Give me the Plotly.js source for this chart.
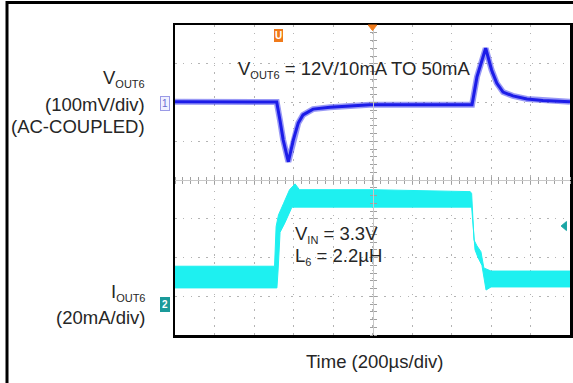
<!DOCTYPE html>
<html>
<head>
<meta charset="utf-8">
<script src="https://cdn.plot.ly/plotly-3.0.1.min.js"></script>
<style>html,body{margin:0;padding:0;background:#fff;}#chart{width:573px;height:383px;}</style>
</head>
<body>
<div id="chart"></div>
<script>
// Time axis in microseconds (200 µs/div, 10 divisions)
const vTime_us = [-1000, -485, -468, -452, -426, -401, -376, -352, -301, -215, -114, -13, 250, 504, 529, 573, 603, 629, 661, 711, 782, 863, 1000];
// VOUT6 (AC-coupled), mV
const vOut_mV  = [2, 1, -47, -97, -153, -97, -53, -32, -17, -12, -9, -6, -6, -6, 66, 140, 84, 50, 27, 17, 9, 5, 2];

// IOUT6 noisy band: upper and lower envelope, mA
const iTimeHi_us = [-1000, -496, -488, -476, -450, -420, -392, -370, 0, 495, 502, 514, 529, 549, 564, 600, 1000];
const iHi_mA     = [19.5, 19.5, 40, 46, 52, 59, 62, 59, 59, 58, 57, 33, 30, 27, 18.6, 17, 17];
const iTimeLo_us = [-1000, -484, -478, -468, -443, -408, 0, 502, 519, 534, 554, 575, 600, 1000];
const iLo_mA     = [8.3, 8.3, 17.5, 37, 42, 50, 50, 50, 28, 24, 20, 7.2, 8.8, 8.8];

const BLUE = '#1c1ce8';
const CYAN = '#1ef0f0';
const TXT = '#262626';
const FONT = 'Liberation Sans, Arial, sans-serif';

const traces = [
  {x: iTimeLo_us, y: iLo_mA, xaxis: 'x', yaxis: 'y2', mode: 'lines', line: {color: CYAN, width: 1}, hoverinfo: 'skip', showlegend: false},
  {x: iTimeHi_us, y: iHi_mA, xaxis: 'x', yaxis: 'y2', mode: 'lines', fill: 'tonexty', fillcolor: CYAN, line: {color: CYAN, width: 1}, hoverinfo: 'skip', showlegend: false},
  {x: vTime_us, y: vOut_mV, xaxis: 'x', yaxis: 'y', mode: 'lines', line: {color: BLUE, width: 6}, opacity: 0.45, hoverinfo: 'skip', showlegend: false},
  {x: vTime_us, y: vOut_mV, xaxis: 'x', yaxis: 'y', mode: 'lines', line: {color: BLUE, width: 3}, hoverinfo: 'skip', showlegend: false},
  {x: [], y: [], xaxis: 'x2', yaxis: 'y', showlegend: false},
  {x: [], y: [], xaxis: 'x3', yaxis: 'y', showlegend: false},
  {x: [], y: [], xaxis: 'x', yaxis: 'y3', showlegend: false},
  {x: [], y: [], xaxis: 'x', yaxis: 'y4', showlegend: false}
];

const cross = {showline: true, linecolor: '#c8c8c8', linewidth: 1, ticks: 'outside', ticklen: 3, tickcolor: '#a0a0a0', tickwidth: 1, showticklabels: false, showgrid: false, zeroline: false, fixedrange: true};

const layout = {
  width: 573, height: 383,
  margin: {l: 175, r: 3, t: 25, b: 48},
  paper_bgcolor: '#fff', plot_bgcolor: '#fff',
  font: {family: FONT, color: TXT, size: 18.5},
  showlegend: false,
  xaxis: {range: [-1000, 1000], dtick: 200, tick0: -1000, showgrid: true, gridcolor: '#b4b4b4', gridwidth: 1, griddash: '1.5px,6.4px',
          showline: true, mirror: true, linecolor: '#000', linewidth: 2.5, ticks: '', showticklabels: false, zeroline: false},
  yaxis: {range: [-600, 200], dtick: 100, tick0: -600, showgrid: true, gridcolor: '#b4b4b4', gridwidth: 1, griddash: '1.5px,6.25px',
          showline: true, mirror: true, linecolor: '#000', linewidth: 2.5, ticks: '', showticklabels: false, zeroline: false},
  yaxis2: {range: [-16, 144], overlaying: 'y', anchor: 'x', visible: false, showgrid: false, zeroline: false},
  xaxis2: Object.assign({range: [-1000, 1000], dtick: 40, tick0: -1000, overlaying: 'x', anchor: 'free', position: 0.5, side: 'bottom'}, cross),
  xaxis3: Object.assign({range: [-1000, 1000], dtick: 40, tick0: -1000, overlaying: 'x', anchor: 'free', position: 0.5, side: 'top'}, cross),
  yaxis3: Object.assign({range: [-600, 200], dtick: 20, tick0: -600, overlaying: 'y', anchor: 'free', position: 0.5, side: 'left'}, cross),
  yaxis4: Object.assign({range: [-600, 200], dtick: 20, tick0: -600, overlaying: 'y', anchor: 'free', position: 0.5, side: 'right'}, cross),
  shapes: [
    // outer border of the figure
    {type: 'path', xref: 'paper', yref: 'paper', path: 'M -0.4253,-0.3 L -0.4253,1.0726 L 1.05,1.0726', line: {color: '#000', width: 3}},
    // trigger position marker (top centre)
    {type: 'path', xref: 'x', yref: 'paper', path: 'M -22,1.0 L 22,1.0 L 0,0.982 Z', fillcolor: '#f07a1a', line: {color: '#f07a1a', width: 1}},
    // trigger level marker (right)
    {type: 'path', xref: 'x', yref: 'paper', path: 'M 955,0.3516 L 982,0.366 L 982,0.337 Z', fillcolor: '#1aa5a5', line: {color: '#1aa5a5', width: 1}}
  ],
  annotations: [
    {xref: 'paper', yref: 'paper', x: -0.07, y: 0.826, xanchor: 'right', yanchor: 'middle', showarrow: false,
     text: 'V<sub><span style="font-size:11px">OUT6</span></sub>'},
    {xref: 'paper', yref: 'paper', x: -0.07, y: 0.745, xanchor: 'right', yanchor: 'middle', showarrow: false, text: '(100mV/div)'},
    {xref: 'paper', yref: 'paper', x: -0.07, y: 0.671, xanchor: 'right', yanchor: 'middle', showarrow: false, text: '(AC-COUPLED)'},
    {xref: 'paper', yref: 'paper', x: -0.07, y: 0.137, xanchor: 'right', yanchor: 'middle', showarrow: false,
     text: 'I<sub><span style="font-size:11px">OUT6</span></sub>'},
    {xref: 'paper', yref: 'paper', x: -0.07, y: 0.058, xanchor: 'right', yanchor: 'middle', showarrow: false, text: '(20mA/div)'},
    {xref: 'paper', yref: 'paper', x: 0.505, y: -0.087, xanchor: 'center', yanchor: 'middle', showarrow: false, text: 'Time (200µs/div)'},
    {xref: 'paper', yref: 'paper', x: 0.155, y: 0.855, xanchor: 'left', yanchor: 'middle', showarrow: false,
     text: 'V<sub><span style="font-size:11px">OUT6</span></sub> = 12V/10mA TO 50mA'},
    {xref: 'paper', yref: 'paper', x: 0.298, y: 0.325, xanchor: 'left', yanchor: 'middle', showarrow: false,
     text: 'V<sub><span style="font-size:11px">IN</span></sub> = 3.3V'},
    {xref: 'paper', yref: 'paper', x: 0.298, y: 0.253, xanchor: 'left', yanchor: 'middle', showarrow: false,
     text: 'L<sub><span style="font-size:11px">6</span></sub> = 2.2µH'},
    // channel markers
    {xref: 'paper', yref: 'paper', x: -0.012, y: 0.748, xanchor: 'right', yanchor: 'middle', showarrow: false, text: '1',
     font: {size: 10, color: '#6a6ad0'}, bgcolor: '#f0f0ff', bordercolor: '#9a9ae6', borderwidth: 1, borderpad: 1},
    {xref: 'paper', yref: 'paper', x: -0.012, y: 0.0985, xanchor: 'right', yanchor: 'middle', showarrow: false, text: '<b>2</b>',
     font: {size: 10, color: '#fff'}, bgcolor: '#1a9a9a', bordercolor: '#1a9a9a', borderwidth: 1, borderpad: 1},
    // trigger icon
    {xref: 'paper', yref: 'paper', x: 0.261, y: 0.966, xanchor: 'center', yanchor: 'middle', showarrow: false, text: '<b>U</b>',
     font: {size: 10, color: '#fff'}, bgcolor: '#f07a1a', bordercolor: '#f07a1a', borderwidth: 1, borderpad: 0}
  ]
};

Plotly.newPlot('chart', traces, layout, {staticPlot: true, displayModeBar: false});
</script>
</body>
</html>
